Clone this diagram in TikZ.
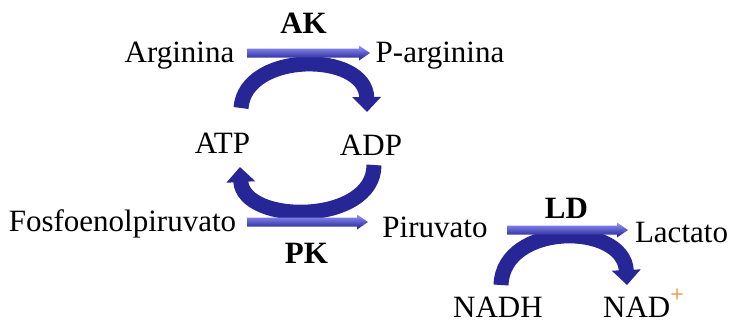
\documentclass[tikz,border=0pt]{standalone}
\usepackage{fontspec}
\setmainfont{Liberation Serif}
\usetikzlibrary{arrows.meta,calc}
\definecolor{alight}{RGB}{150,150,255}
\definecolor{amid}{RGB}{70,70,225}
\definecolor{adark}{RGB}{28,28,140}
\definecolor{arcblue}{RGB}{38,38,150}
\definecolor{plusorange}{RGB}{226,140,40}
\newcommand\shadearrow[2]{%
  \shade[top color=alight, middle color=amid, bottom color=adark]
   ($(#1)+(0,-4.5)$) -- ($(#2)+(-11,-4.5)$) -- ($(#2)+(-11,-7.5)$) -- (#2)
   -- ($(#2)+(-11,7.5)$) -- ($(#2)+(-11,4.5)$) -- ($(#1)+(0,4.5)$) -- cycle;}
\begin{document}
\begin{tikzpicture}[x=1pt,y=-1pt,
  lbl/.style={inner sep=0pt, anchor=base, font=\fontsize{31}{36}\selectfont},
  enz/.style={inner sep=0pt, anchor=base, font=\fontsize{31}{36}\selectfont\bfseries},
  curvearrow/.style={line width=15pt, arcblue, -{Triangle[width=28pt,length=15pt]}}]
\useasboundingbox (0,0) rectangle (730,325);
% texts
\node[lbl] (arg) at (179.5,62) {Arginina};
\node[lbl] (parg) at (440,62) {P-arginina};
\node[enz] (ak) at (303.5,33) {AK};
\node[lbl] (atp) at (222.5,153) {ATP};
\node[lbl] (adp) at (371,155) {ADP};
\node[lbl] (fos) at (122.5,231) {Fosfoenolpiruvato};
\node[lbl] (pir) at (435,237) {Piruvato};
\node[enz] (pk) at (306.5,263) {PK};
\node[enz] (ld) at (566.5,218) {LD};
\node[lbl] (lac) at (681.5,242) {Lactato};
\node[lbl] (nadh) at (498,317) {NADH};
\node[lbl, anchor=base west] (nad) at (603,317) {NAD\raisebox{15pt}{\fontsize{24}{24}\selectfont\color{plusorange}+}};
% arc end points
\coordinate (atpA) at (241,108);
\coordinate (adpA) at (367,112);
\coordinate (adpB) at (374,165);
\coordinate (atpB) at (240,167);
\coordinate (nadhA) at (501,285);
\coordinate (nadA) at (627,285);
% curved arrows
\draw[curvearrow] (atpA) .. controls (245,51) and (366,51) .. (adpA);
\draw[curvearrow] (adpB) .. controls (374,225) and (243,225) .. (atpB);
\draw[curvearrow] (nadhA) .. controls (503,222) and (624,222) .. (nadA);
% straight arrows
\coordinate (ak1) at (247,53);  \coordinate (ak2) at (370,53);
\coordinate (pk1) at (247,222); \coordinate (pk2) at (368,222);
\coordinate (ld1) at (507,230); \coordinate (ld2) at (628,230);
\shadearrow{ak1}{ak2}
\shadearrow{pk1}{pk2}
\shadearrow{ld1}{ld2}
\end{tikzpicture}
\end{document}
